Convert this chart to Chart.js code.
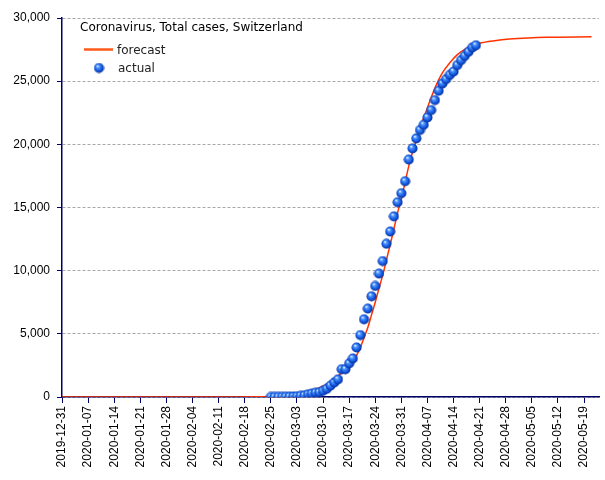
<!DOCTYPE html>
<html>
<head>
<meta charset="utf-8">
<script src="https://cdn.jsdelivr.net/npm/chart.js@4"></script>
<style>
  html, body { margin: 0; padding: 0; background: #fff; }
  #wrap { width: 605px; height: 480px; }
</style>
</head>
<body>
<div id="wrap"><canvas id="js--chart"></canvas></div>
<script>
// x positions are days counted from 2019-12-31
const tickLabels = [
    "2019-12-31", "2020-01-07", "2020-01-14", "2020-01-21", "2020-01-28",
    "2020-02-04", "2020-02-11", "2020-02-18", "2020-02-25", "2020-03-03",
    "2020-03-10", "2020-03-17", "2020-03-24", "2020-03-31", "2020-04-07",
    "2020-04-14", "2020-04-21", "2020-04-28", "2020-05-05", "2020-05-12",
    "2020-05-19"
];

// actual cases, one per day from 2020-02-25 (day 56) to 2020-04-20
const actualStartDay = 56;
const actualValues = [
    1, 1, 8, 8, 18,
    27, 42, 56, 90, 130, 214, 268, 337, 374, 491,
    652, 900, 1150, 1400, 2200, 2200, 2660, 3050, 3920, 4900,
    6150, 7000, 7970, 8790, 9770, 10760, 12130, 13100, 14300, 15420,
    16130,
    17080, 18790, 19680, 20470, 21130, 21550, 22130, 22710, 23500, 24240,
    24810, 25160, 25500, 25760, 26270, 26660, 27000, 27320, 27660, 27840
];

// forecast curve
const forecastDays = [0, 48, 52, 56, 60, 64, 68, 72, 76, 78, 79, 80, 81, 82, 83, 84, 85, 86, 87, 88,
    89, 90, 91, 92, 93, 94, 95, 96, 97, 98, 99, 100, 101, 102, 104, 106, 108, 110, 112, 116,
    120, 125, 130, 142];
const forecastValues = [0, 0, 10, 30, 100, 260, 600, 1200, 2200, 2800, 3300, 3900, 4700, 5500, 6500, 7500, 8600, 9650, 10850, 12050,
    13300, 14600, 15700, 17000, 18300, 19400, 20300, 21250, 22100, 22900, 23700, 24450, 25100, 25650, 26450, 27100, 27520, 27800, 28000, 28200,
    28330, 28420, 28470, 28510];

const navy = '#000066';

// little blue ball for the points
const ball = document.createElement('canvas');
ball.width = 11;
ball.height = 11;
const bctx = ball.getContext('2d');
const grad = bctx.createRadialGradient(4, 3.5, 0.3, 5.5, 5.5, 5.6);
grad.addColorStop(0, '#e4f2ff');
grad.addColorStop(0.25, '#4a95ff');
grad.addColorStop(0.7, '#0c4cd6');
grad.addColorStop(1, '#061f70');
bctx.fillStyle = grad;
bctx.beginPath();
bctx.arc(5.5, 5.5, 5, 0, Math.PI * 2);
bctx.fill();

const legendBox = {
    id: 'legendBox',
    afterDraw(chart) {
        const ctx = chart.ctx;
        ctx.save();
        ctx.textBaseline = 'alphabetic';
        ctx.fillStyle = '#000';
        ctx.font = '12px "DejaVu Sans"';
        ctx.fillText('Coronavirus, Total cases, Switzerland', 80, 31);
        ctx.fillStyle = '#222';
        ctx.fillText('forecast', 117, 54);
        ctx.fillText('actual', 118, 72);
        ctx.strokeStyle = '#ff5a1a';
        ctx.lineWidth = 2.5;
        ctx.beginPath();
        ctx.moveTo(84, 49.5);
        ctx.lineTo(113, 49.5);
        ctx.stroke();
        ctx.drawImage(ball, 99 - 5.5, 68 - 5.5);
        ctx.restore();
    }
};

Chart.defaults.font.family = '"Liberation Sans", Arial, sans-serif';
Chart.defaults.font.size = 12;
Chart.defaults.color = '#000';

const data = {
    datasets: [
        {
            label: 'actual',
            data: actualValues.map((v, i) => ({x: actualStartDay + i, y: v})),
            showLine: false,
            pointStyle: ball,
            pointRadius: 5,
            order: 0
        },
        {
            label: 'forecast',
            data: forecastDays.map((d, i) => ({x: d, y: forecastValues[i]})),
            borderColor: '#ff3300',
            borderWidth: 1.5,
            pointRadius: 0,
            cubicInterpolationMode: 'monotone',
            fill: false,
            order: 1
        }
    ]
};

const config = {
    type: 'line',
    data: data,
    plugins: [legendBox],
    options: {
        responsive: true,
        maintainAspectRatio: false,
        animation: false,
        layout: { padding: { top: 18, right: 5, left: 0, bottom: 0 } },
        plugins: {
            legend: { display: false },
            tooltip: { enabled: false }
        },
        scales: {
            x: {
                type: 'linear',
                min: 0,
                max: 144,
                afterBuildTicks: s => { s.ticks = s.ticks.filter(t => t.value % 7 === 0); },
                afterFit: s => { s.height = 83; },
                ticks: {
                    stepSize: 7,
                    autoSkip: false,
                    minRotation: 90,
                    maxRotation: 90,
                    padding: 3,
                    callback: v => tickLabels[v / 7]
                },
                grid: { drawOnChartArea: false, tickLength: 6, tickColor: navy },
                border: { color: navy, width: 1.5 }
            },
            y: {
                min: 0,
                max: 30000,
                afterFit: s => { s.width = 62; },
                ticks: {
                    stepSize: 5000,
                    padding: 7,
                    callback: v => v.toLocaleString('en-US')
                },
                grid: { color: '#a8a8a8', tickColor: navy, tickLength: 5 },
                border: { color: navy, width: 1.5, dash: [3, 2] }
            }
        }
    }
};

new Chart(document.getElementById('js--chart'), config);
</script>
</body>
</html>
